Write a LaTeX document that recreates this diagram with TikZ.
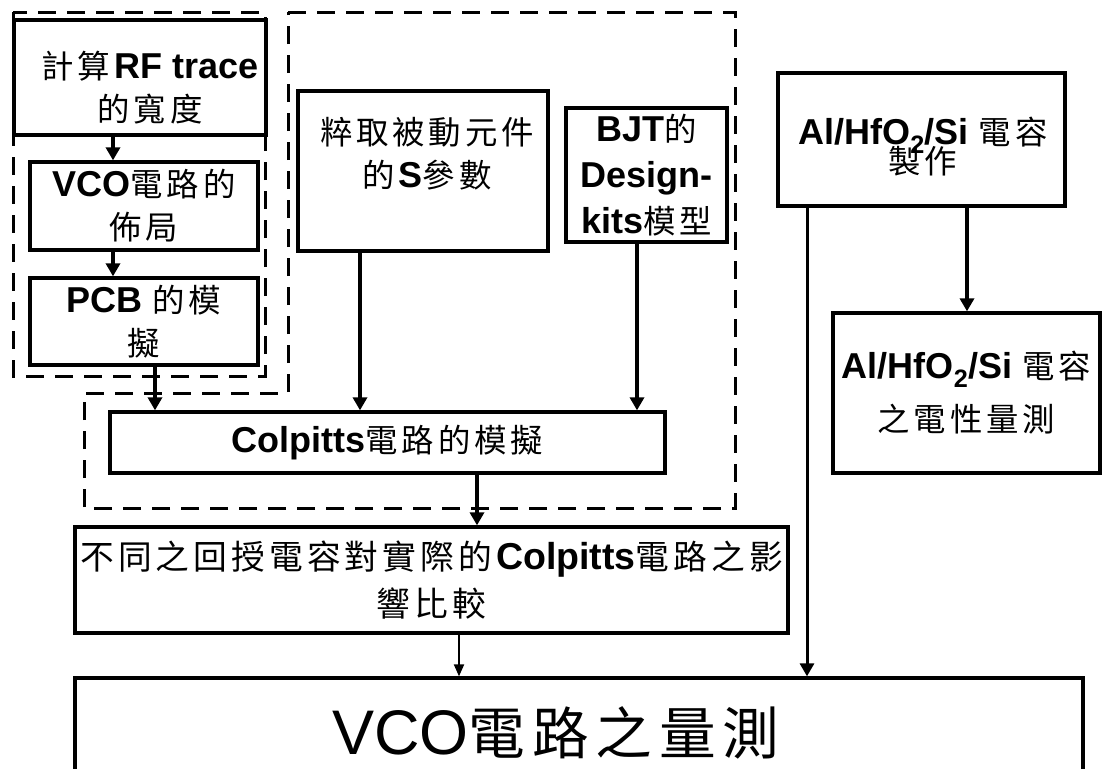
\documentclass[tikz,border=0pt]{standalone}
\usepackage{fontspec}
\setmainfont{Liberation Sans}
\newfontfamily\cjk[Scale=0.9,LetterSpace=12]{Noto Sans CJK TC}
\newcommand\zh[1]{{\cjk\mdseries #1}}
\usetikzlibrary{arrows.meta}
\begin{document}
\begin{tikzpicture}[x=1pt,y=-1pt,
  box/.style={draw,line width=3.3pt,inner sep=0pt,align=center,font=\fontsize{36}{43}\selectfont},
  region/.style={draw,line width=3pt,dash pattern=on 18pt off 11pt},
  arr/.style={line width=3.6pt,-{Triangle[length=13pt,width=14pt]}},
  thinarr/.style={line width=2pt,-{Triangle[length=12pt,width=10pt]}},
  txt/.style={inner sep=0pt,align=center,font=\fontsize{36}{43}\selectfont}]
\useasboundingbox (0,0) rectangle (1104,769);
\clip (0,0) rectangle (1104,769);
\fill[white] (0,0) rectangle (1104,769);

% dashed regions
\draw[region] (13,12) rectangle (265,376);
\draw[region] (288,12) -- (735,12) -- (735,508) -- (84,508) -- (84,393) -- (288,393) -- cycle;

% left column
\node[box,minimum width=252pt,minimum height=115pt] (rf) at (140,77.5) {};
\node[txt] (rft) at (150,87.5) {\zh{計算}\textbf{RF trace}\\\zh{的寬度}};
\node[box,minimum width=228pt,minimum height=88pt] (vco) at (144,206) {\textbf{VCO}\zh{電路的}\\\zh{佈局}};
\node[box,minimum width=228pt,minimum height=87pt] (pcb) at (144,321.5) {\textbf{PCB} \zh{的模}\\\zh{擬}};

% middle
\node[box,minimum width=250pt,minimum height=160pt] (s) at (423,171) {};
\node[txt] (st) at (427,154) {\zh{粹取被動元件}\\\zh{的}\textbf{S}\zh{參數}};
\node[box,minimum width=161pt,minimum height=134pt,font=\fontsize{36}{46}\selectfont] (bjt) at (646.5,175) {\textbf{BJT}\zh{的}\\\textbf{Design-}\\\textbf{kits}\zh{模型}};
\node[box,minimum width=555pt,minimum height=61pt] (colp) at (387.5,442.5) {\textbf{Colpitts}\zh{電路的模擬}};

% right
\node[box,minimum width=287pt,minimum height=133pt] (al1) at (921.5,139.5) {};
\node[txt] (al1t) at (923,147) {\textbf{Al/HfO\textsubscript{2}/Si} \zh{電容}\\[-14pt]\zh{製作}};
\node[box,minimum width=267pt,minimum height=160pt,font=\fontsize{36}{53}\selectfont] (al2) at (966.5,393) {\textbf{Al/HfO\textsubscript{2}/Si} \zh{電容}\\\zh{之電性量測}};

% bottom
\node[box,minimum width=713pt,minimum height=106pt,font=\fontsize{37.5}{47}\selectfont] (cmp) at (431.5,580) {\zh{不同之回授電容對實際的}\textbf{Colpitts}\zh{電路之影}\\\zh{響比較}};
\node[box,minimum width=1008pt,minimum height=112pt] (vcom) at (579,734) {};
\node[txt,font=\fontsize{63}{70}\selectfont] (vcomt) at (556,733) {VCO\zh{電路之量測}};

% connectors
\draw[arr] (rf.south -| 113,0) -- (vco.north -| 113,0);
\draw[arr] (vco.south -| 113,0) -- (pcb.north -| 113,0);
\draw[arr] (pcb.south -| 155,0) -- (colp.north -| 155,0);
\draw[arr] (s.south -| 360,0) -- (colp.north -| 360,0);
\draw[arr] (bjt.south -| 637,0) -- (colp.north -| 637,0);
\draw[arr] (colp.south -| 477,0) -- (cmp.north -| 477,0);
\draw[thinarr] (cmp.south -| 459,0) -- (vcom.north -| 459,0);
\draw[arr] (al1.south -| 967,0) -- (al2.north -| 967,0);
\draw[arr,line width=3pt] (al1.south -| 807,0) -- (vcom.north -| 807,0);
\end{tikzpicture}
\end{document}
